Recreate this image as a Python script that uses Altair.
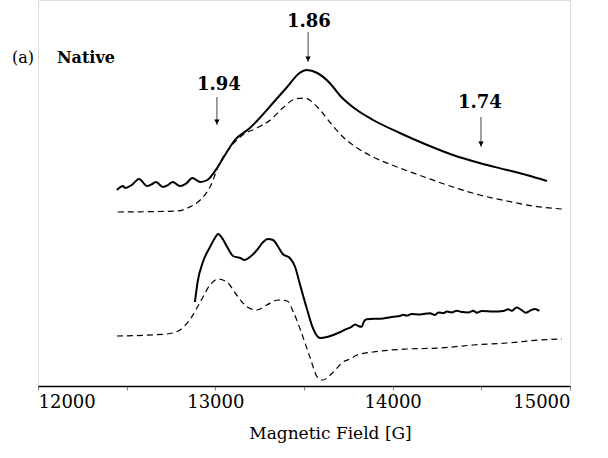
import altair as alt
import pandas as pd

# ---- data (magnetic field in G, intensity in arbitrary units) ----
top_solid_x = [12445, 12480, 12490, 12530, 12570, 12615, 12640, 12665, 12705, 12735, 12760, 12800,
               12835, 12870, 12915, 12955, 13010, 13065, 13110, 13195, 13250, 13325, 13405, 13475,
               13515, 13575, 13645, 13705, 13775, 13890, 14040, 14195, 14340, 14490, 14645, 14755, 14870]
top_solid_y = [49, 50, 49.5, 50.3, 51.75, 50, 50.4, 51, 49.75, 50.3, 51, 50,
               50.6, 52, 51, 51.5, 54.5, 58.5, 61.5, 64.5, 67, 70.75, 74.75, 78.25,
               79, 78.25, 75.75, 72.5, 69.75, 66.5, 63.25, 60.25, 57.75, 55.75, 54, 52.75, 51.25]

top_dash_x = [12450, 12785, 12855, 12915, 12970, 13025, 13085, 13155, 13235, 13310, 13380, 13450,
              13505, 13575, 13645, 13720, 13800, 13890, 14040, 14195, 14340, 14490, 14645, 14790, 14955]
top_dash_y = [43.5, 43.75, 44.75, 46.5, 49.75, 55.75, 59.75, 62.75, 64.5, 66.5, 69.5, 71.75,
              72, 69.75, 66, 62.25, 59.5, 57.25, 54.5, 52, 49.75, 47.75, 46.25, 45, 44.25]

bot_solid_x = [12885, 12900, 12930, 12970, 12998, 13015, 13045, 13070, 13100, 13140, 13165, 13195,
               13235, 13270, 13295, 13325, 13355, 13380, 13420, 13450, 13475, 13515, 13550, 13590,
               13630, 13665, 13705, 13738, 13768, 13788, 13806, 13825, 13838, 13853, 13947, 14004,
               14041, 14060, 14079, 14107, 14154, 14210, 14239, 14258, 14286, 14305, 14333, 14361,
               14389, 14427, 14455, 14474, 14502, 14568, 14624, 14652, 14671, 14699, 14727, 14751,
               14774, 14802, 14827]
bot_solid_y = [21, 26, 31, 34.75, 37, 38, 36.5, 34.5, 32.5, 32, 31.5, 32.25,
               34, 36, 36.75, 36.5, 34.75, 33, 32, 29.75, 25.75, 19.5, 14.5, 12,
               12.25, 12.75, 13.5, 14.2, 14.8, 15.4, 15, 14.8, 16.1, 16.7, 16.9, 17.3,
               17.5, 17.8, 17.6, 18, 17.9, 18.2, 17.75, 18.4, 18.2, 18.6, 18.4, 18.8,
               18.5, 18.4, 18.8, 18.3, 18.75, 18.6, 18.75, 19.2, 18.8, 19.6, 19, 18.3,
               18.8, 19.25, 18.8]

bot_dash_x = [12445, 12725, 12800, 12855, 12915, 12970, 13015, 13065, 13120, 13180, 13235, 13290,
              13355, 13405, 13440, 13490, 13535, 13575, 13605, 13660, 13720, 13760, 13800, 13890,
              14080, 14265, 14455, 14645, 14830, 14955]
bot_dash_y = [12.5, 13, 14, 16.5, 21, 25.25, 26.75, 26, 22.75, 19.75, 19, 20.25,
              21.5, 21.25, 18.5, 12.75, 7, 2.25, 1.5, 3.25, 6, 6.75, 7.75, 8.5,
              9.25, 9.5, 10.25, 10.75, 11.5, 11.75]

g_labels = ["1.94", "1.86", "1.74"]
g_label_x = [13020, 13528, 14492]
g_label_y = [75.25, 91, 70.75]
arrow_x = [13009, 13523, 14498]
arrow_y_start = [72.25, 88.5, 67.25]
arrow_y_end = [65.25, 81, 59.75]

panel_texts = ["(a)", "Native"]
panel_text_x = [11853, 12107]
panel_text_y = [82, 82]
panel_text_weight = ["normal", "bold"]

tick_values = [12000, 12500, 13000, 13500, 14000, 14500, 15000]

# ---- chart ----
xs = alt.Scale(domain=[12000, 15000], nice=False)
ys = alt.Scale(domain=[0, 96.5], nice=False, zero=False)

xaxis = alt.Axis(
    values=tick_values,
    labelExpr="datum.value % 1000 == 0 ? datum.label : ''",
    format="d",
    title="Magnetic Field [G]",
    titleFont="DejaVu Serif", titleFontSize=17, titleFontWeight="normal",
    titleX=292, titleY=52, titleBaseline="alphabetic", titleAnchor="middle",
    titleAlign="center",
    labelFont="DejaVu Serif", labelFontSize=18, labelColor="black",
    labelFlush=True, labelPadding=3,
    domainColor="black", domainWidth=1.5,
    tickColor="#888", tickSize=4, tickWidth=1,
    grid=False,
)

def line_layer(xv, yv, dashed, width):
    df = pd.DataFrame({"x": xv, "y": yv})
    kw = dict(color="black", strokeWidth=width, interpolate="monotone")
    if dashed:
        kw["strokeDash"] = [6, 4]
    return alt.Chart(df).mark_line(**kw).encode(
        x=alt.X("x:Q", scale=xs, axis=xaxis),
        y=alt.Y("y:Q", scale=ys, axis=None),
    )

l1 = line_layer(top_solid_x, top_solid_y, False, 2)
l2 = line_layer(top_dash_x, top_dash_y, True, 1.2)
l3 = line_layer(bot_solid_x, bot_solid_y, False, 2)
l4 = line_layer(bot_dash_x, bot_dash_y, True, 1.2)

ann = pd.DataFrame({"label": g_labels, "lx": g_label_x, "ly": g_label_y,
                    "ax": arrow_x, "ay1": arrow_y_start, "ay2": arrow_y_end})
ann["head"] = ann["ay2"] + 0.8

labels = alt.Chart(ann).mark_text(font="DejaVu Serif", fontSize=18, fontWeight="bold",
                                  color="black", align="center", baseline="middle").encode(
    x=alt.X("lx:Q", scale=xs), y=alt.Y("ly:Q", scale=ys), text="label:N")
rules = alt.Chart(ann).mark_rule(color="#444", strokeWidth=1).encode(
    x=alt.X("ax:Q", scale=xs), y=alt.Y("ay1:Q", scale=ys), y2="ay2:Q")
heads = alt.Chart(ann).mark_point(shape="triangle-down", filled=True, size=30,
                                  color="black", opacity=1).encode(
    x=alt.X("ax:Q", scale=xs), y=alt.Y("head:Q", scale=ys))

pt = pd.DataFrame({"t": panel_texts, "x": panel_text_x, "y": panel_text_y, "w": panel_text_weight})
ptext_a = alt.Chart(pt[pt.w == "normal"]).mark_text(font="DejaVu Serif", fontSize=16,
                                                    align="left", baseline="middle", color="black").encode(
    x=alt.X("x:Q", scale=xs), y=alt.Y("y:Q", scale=ys), text="t:N")
ptext_b = alt.Chart(pt[pt.w == "bold"]).mark_text(font="DejaVu Serif", fontSize=16, fontWeight="bold",
                                                  align="left", baseline="middle", color="black").encode(
    x=alt.X("x:Q", scale=xs), y=alt.Y("y:Q", scale=ys), text="t:N")

chart = alt.layer(l1, l2, l3, l4, rules, heads, labels, ptext_a, ptext_b).properties(
    width=532, height=386,
    autosize=alt.AutoSizeParams(type="none"),
    padding={"left": 38, "top": 0, "right": 38, "bottom": 72},
).configure_view(strokeWidth=0).configure(background="white")

chart.save("out.html", embed_options={"renderer": "svg", "actions": False})
